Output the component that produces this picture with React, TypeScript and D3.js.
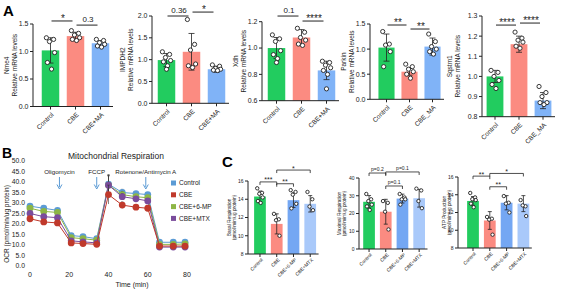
import React from 'react';
import * as d3 from 'd3';

const FONT = 'Arial, "Liberation Sans", Helvetica, sans-serif';

// ---- panel A: qPCR, relative mRNA levels ----
const groupsMA = ['Control', 'CBE', 'CBE+MA'];
const groupsMA2 = ['Control', 'CBE', 'CBE_MA'];

const nme4Mean = [1.02, 1.28, 1.15];
const nme4Sd = [0.23, 0.07, 0.05];
const nme4Pts = [
  [1.25, 1.22, 1.18, 0.98, 0.8, 0.68],
  [1.38, 1.33, 1.3, 1.25, 1.22, 1.2],
  [1.22, 1.2, 1.16, 1.13, 1.1, 1.08],
];

const impdhMean = [0.99, 1.18, 0.78];
const impdhSd = [0.15, 0.42, 0.07];
const impdhPts = [
  [1.18, 1.12, 1.05, 0.98, 0.95, 0.86, 0.78],
  [1.92, 1.35, 1.22, 0.9, 0.86, 0.82],
  [0.88, 0.85, 0.8, 0.78, 0.76, 0.75],
];

const xdhMean = [1.0, 1.08, 0.83];
const xdhSd = [0.08, 0.06, 0.07];
const xdhPts = [
  [1.1, 1.07, 1.05, 0.98, 0.95, 0.92, 0.89],
  [1.15, 1.12, 1.08, 1.06, 1.03, 1.02],
  [0.9, 0.89, 0.87, 0.85, 0.83, 0.8, 0.69],
];

const parkinMean = [1.03, 0.55, 1.05];
const parkinSd = [0.27, 0.07, 0.17];
const parkinPts = [
  [1.35, 1.1, 1.08, 0.95, 0.65],
  [0.7, 0.65, 0.6, 0.55, 0.5, 0.42],
  [1.3, 1.15, 1.05, 1.0, 0.95, 0.9],
];

const sqstmMean = [1.0, 1.16, 0.88];
const sqstmSd = [0.03, 0.04, 0.04];
const sqstmPts = [
  [1.03, 1.02, 1.0, 0.98, 0.96, 0.94],
  [1.22, 1.19, 1.18, 1.17, 1.15, 1.14],
  [0.95, 0.92, 0.9, 0.87, 0.87, 0.86],
];

// ---- panel B: Seahorse OCR time course ----
const times = [0, 7, 14, 21, 27, 34, 40, 47, 54, 60, 66, 73, 79];
const seriesNames = ['Control', 'CBE', 'CBE+6-MP', 'CBE+MTX'];
const ocrControl = [28.5, 27.5, 26.5, 14.5, 14, 13, 39, 35, 34.5, 34, 11.3, 11.3, 11.3];
const ocrCbe = [22.5, 21, 20.5, 11, 10.7, 10.3, 34, 29, 28, 27.5, 9.5, 9.5, 9.5];
const ocr6mp = [27.5, 26, 25.5, 13.5, 13, 12.3, 38.5, 34, 33, 32.5, 10.3, 10.3, 10.5];
const ocrMtx = [25, 23.5, 23, 12, 11.5, 11, 38.5, 33, 32, 31, 9, 9, 9];
const ocrErr = [0.6, 0.6, 0.6, 0.5, 0.5, 0.5, 4.5, 1.5, 1, 1, 0.4, 0.4, 0.4];
const injections = [
  { t: 15, label: 'Oligomycin' },
  { t: 34, label: 'FCCP' },
  { t: 59, label: 'Rotenone/Antimycin A' },
];

// ---- panel C: respiration parameters ----
const groupsC = ['Control', 'CBE', 'CBE+6-MP', 'CBE+MTX'];

const basalMean = [14.3, 11.3, 13.9, 13.5];
const basalSd = [0.6, 1.1, 0.8, 0.9];
const basalPts = [
  [15.2, 14.7, 14.6, 14.2, 13.8, 13.6],
  [12.4, 11.8, 11.7, 10.0],
  [15.0, 14.8, 14.5, 13.5, 13.0],
  [14.8, 14.0, 13.2, 12.8],
];

const maxMean = [26.6, 21, 28.4, 28.6];
const maxSd = [3.5, 7, 2.5, 5];
const maxPts = [
  [31, 28, 27, 25, 24, 22],
  [27, 26, 21, 11],
  [31, 29, 28, 28, 25],
  [34, 33, 27, 23],
];

const atpMean = [13.3, 11.1, 13.1, 13.0];
const atpSd = [0.5, 1.0, 0.8, 0.9];
const atpPts = [
  [14.2, 13.7, 13.5, 13.4, 13.0, 12.6],
  [11.5, 11.3, 11.2, 9.5],
  [13.85, 13.1, 13.0, 12.0],
  [13.4, 12.7, 12.8, 11.6],
];

const colorsA = ['#22cc5f', '#fb8b81', '#80b3f7'];
const colorsC = ['#22cc5f', '#fb8b81', '#74a7f3', '#a9c9fa'];
const lineColors = ['#5b9bd5', '#c0392b', '#8db645', '#7a4c9c'];

type Sig = { a: number; b: number; level: number; text: string };

type PanelProps = {
  groups: string[];
  mean: number[];
  sd: number[];
  pts: number[][];
  colors: string[];
  axisX: number;
  x0: number;
  x1: number;
  yTop: number;
  yBottom: number;
  domain: [number, number];
  ticks: number[];
  fmt: string;
  title: string[];
  labelX: number;
  sigs: Sig[];
  bracket?: boolean;
  small?: boolean;
};

const jitter = [-4, 3, -1, 4, -3, 1, 0];

function BarPanel(p: PanelProps) {
  const y = d3.scaleLinear().domain(p.domain).range([p.yBottom, p.yTop]);
  const x = d3
    .scaleBand<string>()
    .domain(p.groups)
    .range([p.x0, p.x1])
    .paddingInner(0.3)
    .paddingOuter(0.15);
  const bw = x.bandwidth();
  const cx = (i: number) => (x(p.groups[i]) as number) + bw / 2;
  const f = d3.format(p.fmt);
  const tickFs = p.small ? 5 : 7;
  const labFs = p.small ? 4.8 : 6.5;
  const r = p.small ? 1.7 : 2.1;
  const capW = p.small ? 2 : 3;
  const midY = (p.yTop + p.yBottom) / 2;
  const js = bw / 17;

  return (
    <g fontFamily={FONT}>
      {/* axis title, two lines */}
      {p.title.map((t, i) => (
        <text
          key={t}
          transform={`translate(${p.labelX + i * (labFs + 1)},${midY}) rotate(-90)`}
          textAnchor="middle"
          dy="0.35em"
          fontSize={labFs}
          fill="#222"
        >
          {t}
        </text>
      ))}
      {/* bars */}
      {p.mean.map((m, i) => (
        <rect
          key={i}
          x={x(p.groups[i])}
          y={y(m)}
          width={bw}
          height={p.yBottom - y(m)}
          fill={p.colors[i]}
        />
      ))}
      {/* error bars */}
      {p.mean.map((m, i) => (
        <g key={i} stroke="#222" strokeWidth={0.8}>
          <line x1={cx(i)} x2={cx(i)} y1={y(m - p.sd[i])} y2={y(m + p.sd[i])} />
          <line x1={cx(i) - capW} x2={cx(i) + capW} y1={y(m + p.sd[i])} y2={y(m + p.sd[i])} />
          <line x1={cx(i) - capW} x2={cx(i) + capW} y1={y(m - p.sd[i])} y2={y(m - p.sd[i])} />
        </g>
      ))}
      {/* individual samples */}
      {p.pts.map((arr, i) =>
        arr.map((v, k) => (
          <circle
            key={`${i}-${k}`}
            cx={cx(i) + jitter[k % jitter.length] * js}
            cy={y(v)}
            r={r}
            fill="white"
            stroke="#222"
            strokeWidth={0.9}
          />
        ))
      )}
      {/* axes */}
      <g stroke="#222" strokeWidth={1}>
        <line x1={p.axisX} x2={p.axisX} y1={p.yTop} y2={p.yBottom} />
        <line x1={p.axisX} x2={p.x1} y1={p.yBottom} y2={p.yBottom} />
        {p.ticks.map(t => (
          <line key={t} x1={p.axisX - 3} x2={p.axisX} y1={y(t)} y2={y(t)} />
        ))}
        {p.groups.map((g, i) => (
          <line key={g} x1={cx(i)} x2={cx(i)} y1={p.yBottom} y2={p.yBottom + 3} />
        ))}
      </g>
      {p.ticks.map(t => (
        <text
          key={t}
          x={p.axisX - 4.5}
          y={y(t)}
          dy="0.35em"
          textAnchor="end"
          fontSize={tickFs}
          fill="#222"
        >
          {f(t)}
        </text>
      ))}
      {p.groups.map((g, i) => (
        <text
          key={g}
          transform={`translate(${cx(i) + 2},${p.yBottom + (p.small ? 5 : 7)}) rotate(-45)`}
          textAnchor="end"
          dy="0.35em"
          fontSize={labFs}
          fill="#222"
        >
          {g}
        </text>
      ))}
      {/* significance marks */}
      {p.sigs.map((s, i) => {
        const ly = y(s.level);
        const xa = cx(s.a);
        const xb = cx(s.b);
        const star = s.text.includes('*');
        const fs = star ? (p.small ? 7 : 10) : p.small ? 5 : 8;
        const ty = star ? ly + (p.small ? 0.5 : 1) : ly - (p.small ? 1.8 : 3);
        return (
          <g key={i}>
            {p.bracket ? (
              <path
                d={`M${xa},${ly + 3}V${ly}H${xb}V${ly + 3}`}
                fill="none"
                stroke="#222"
                strokeWidth={0.8}
              />
            ) : (
              <line x1={xa + 1} x2={xb - 3} y1={ly} y2={ly} stroke="#222" strokeWidth={1} />
            )}
            <text x={(xa + xb) / 2} y={ty} textAnchor="middle" fontSize={fs} fill="#222">
              {s.text}
            </text>
          </g>
        );
      })}
    </g>
  );
}

function OcrPanel() {
  const x = d3.scaleLinear().domain([0, 80]).range([30, 187]);
  const y = d3.scaleLinear().domain([0, 50]).range([266, 161]);
  const series = [ocrControl, ocrCbe, ocr6mp, ocrMtx];
  const line = d3
    .line<number>()
    .x((_, i) => x(times[i]))
    .y(v => y(v));
  const order = [0, 2, 3, 1];
  return (
    <g fontFamily={FONT}>
      <text x={116} y={159} textAnchor="middle" fontSize={8.5} fill="#222">
        Mitochondrial Respiration
      </text>
      <text
        transform={`translate(7,224) rotate(-90)`}
        textAnchor="middle"
        dy="0.35em"
        fontSize={6.5}
        fill="#222"
      >
        OCR (pmol/min/ug protein)
      </text>
      {y.ticks(10).map(t => (
        <text key={t} x={25} y={y(t)} dy="0.35em" textAnchor="end" fontSize={6.8} fill="#222">
          {d3.format('.1f')(t)}
        </text>
      ))}
      {[0, 20, 40, 60, 80].map(t => (
        <text key={t} x={x(t)} y={277} textAnchor="middle" fontSize={7} fill="#222">
          {t}
        </text>
      ))}
      <text x={132} y={287} textAnchor="middle" fontSize={7} fill="#222">
        Time (min)
      </text>
      {injections.map(d => (
        <g key={d.label}>
          <text x={x(d.t)} y={174} textAnchor="middle" fontSize={6.2} fill="#222">
            {d.label}
          </text>
          <line x1={x(d.t)} x2={x(d.t)} y1={177} y2={187} stroke="#5b9bd5" strokeWidth={1} />
          <path
            d={`M${x(d.t) - 2.5},${184.5}L${x(d.t)},${189}L${x(d.t) + 2.5},${184.5}`}
            fill="none"
            stroke="#5b9bd5"
            strokeWidth={1}
          />
        </g>
      ))}
      {order.map(si => (
        <g key={si}>
          <path d={line(series[si]) || ''} fill="none" stroke={lineColors[si]} strokeWidth={1} />
          {series[si].map((v, i) => (
            <g key={i} stroke="#333" strokeWidth={0.6}>
              <line x1={x(times[i])} x2={x(times[i])} y1={y(v - ocrErr[i])} y2={y(v + ocrErr[i])} />
              <line x1={x(times[i]) - 1.2} x2={x(times[i]) + 1.2} y1={y(v + ocrErr[i])} y2={y(v + ocrErr[i])} />
            </g>
          ))}
          {series[si].map((v, i) => (
            <circle key={i} cx={x(times[i])} cy={y(v)} r={3.4} fill={lineColors[si]} />
          ))}
        </g>
      ))}
      {seriesNames.map((n, i) => (
        <g key={n}>
          <rect x={171} y={180.5 + i * 11.8} width={5} height={5} fill={lineColors[i]} />
          <text x={179} y={183 + i * 11.8} dy="0.35em" fontSize={6.5} fill="#222">
            {n}
          </text>
        </g>
      ))}
    </g>
  );
}

export default function App() {
  return (
    <svg
      width={561}
      height={289}
      style={{ position: 'absolute', left: 0, top: 0, background: 'white' }}
    >
      <text x={3} y={16} fontFamily={FONT} fontWeight="bold" fontSize={15}>
        A
      </text>
      <text x={2} y={158} fontFamily={FONT} fontWeight="bold" fontSize={14}>
        B
      </text>
      <text x={222} y={167} fontFamily={FONT} fontWeight="bold" fontSize={15}>
        C
      </text>

      <BarPanel
        groups={groupsMA} mean={nme4Mean} sd={nme4Sd} pts={nme4Pts} colors={colorsA}
        axisX={33} x0={38} x1={113} yTop={24} yBottom={106.5} domain={[0, 1.5]}
        ticks={[0, 0.5, 1, 1.5]} fmt=".1f" title={['Nme4', 'Relative mRNA levels']} labelX={7}
        sigs={[{ a: 0, b: 1, level: 1.555, text: '*' }, { a: 1, b: 2, level: 1.48, text: '0.3' }]}
      />
      <BarPanel
        groups={groupsMA} mean={impdhMean} sd={impdhSd} pts={impdhPts} colors={colorsA}
        axisX={152} x0={154} x1={229} yTop={16} yBottom={103.3} domain={[0, 2]}
        ticks={[0, 0.5, 1, 1.5, 2]} fmt=".1f" title={['IMPDH2', 'Relative mRNA levels']} labelX={123}
        sigs={[{ a: 0, b: 1, level: 2.0, text: '0.36' }, { a: 1, b: 2, level: 2.09, text: '*' }]}
      />
      <BarPanel
        groups={groupsMA} mean={xdhMean} sd={xdhSd} pts={xdhPts} colors={colorsA}
        axisX={262} x0={264} x1={339} yTop={21.7} yBottom={100.7} domain={[0.6, 1.2]}
        ticks={[0.6, 0.8, 1.0, 1.2]} fmt=".1f" title={['Xdh', 'Relative mRNA levels']} labelX={236}
        sigs={[{ a: 0, b: 1, level: 1.243, text: '0.1' }, { a: 1, b: 2, level: 1.205, text: '****' }]}
      />
      <BarPanel
        groups={groupsMA2} mean={parkinMean} sd={parkinSd} pts={parkinPts} colors={colorsA}
        axisX={370} x0={375} x1={444} yTop={24} yBottom={99.3} domain={[0, 1.5]}
        ticks={[0, 0.5, 1, 1.5]} fmt=".1f" title={['Parkin', 'Relative mRNA levels']} labelX={344}
        sigs={[{ a: 0, b: 1, level: 1.48, text: '**' }, { a: 1, b: 2, level: 1.4, text: '**' }]}
      />
      <BarPanel
        groups={groupsMA2} mean={sqstmMean} sd={sqstmSd} pts={sqstmPts} colors={colorsA}
        axisX={482} x0={483} x1={555} yTop={16} yBottom={116.7} domain={[0.8, 1.3]}
        ticks={[0.8, 0.9, 1.0, 1.1, 1.2, 1.3]} fmt=".1f" title={['Sqstm1', 'Relative mRNA levels']} labelX={450}
        sigs={[{ a: 0, b: 1, level: 1.255, text: '****' }, { a: 1, b: 2, level: 1.265, text: '****' }]}
      />

      <OcrPanel />

      <BarPanel
        small groups={groupsC} mean={basalMean} sd={basalSd} pts={basalPts} colors={colorsC}
        axisX={248} x0={251.6} x1={318.6} yTop={181} yBottom={254} domain={[8, 16]}
        ticks={[8, 10, 12, 14, 16]} fmt="d" title={['Basal Respiration', '(pmol/min/ug protein)']} labelX={229}
        bracket
        sigs={[
          { a: 0, b: 1, level: 15.9, text: '***' },
          { a: 1, b: 2, level: 15.7, text: '**' },
          { a: 1, b: 3, level: 17.2, text: '*' },
        ]}
      />
      <BarPanel
        small groups={groupsC} mean={maxMean} sd={maxSd} pts={maxPts} colors={colorsC}
        axisX={359} x0={360.7} x1={427.5} yTop={178} yBottom={249} domain={[0, 40]}
        ticks={[0, 10, 20, 30, 40]} fmt="d" title={['Maximal Respiration', '(pmol/min/ug protein)']} labelX={339}
        bracket
        sigs={[
          { a: 0, b: 1, level: 42.8, text: 'p=0.2' },
          { a: 1, b: 3, level: 43.4, text: 'p=0.1' },
          { a: 1, b: 2, level: 35.5, text: 'p=0.1' },
        ]}
      />
      <BarPanel
        small groups={groupsC} mean={atpMean} sd={atpSd} pts={atpPts} colors={colorsC}
        axisX={458} x0={464.6} x1={531.8} yTop={177} yBottom={248} domain={[8, 16]}
        ticks={[8, 10, 12, 14, 16]} fmt="d" title={['ATP Production', '(pmol/min/ug protein)']} labelX={444}
        bracket
        sigs={[
          { a: 0, b: 1, level: 16.1, text: '**' },
          { a: 1, b: 3, level: 16.4, text: '*' },
          { a: 1, b: 2, level: 14.9, text: '**' },
        ]}
      />
    </svg>
  );
}
